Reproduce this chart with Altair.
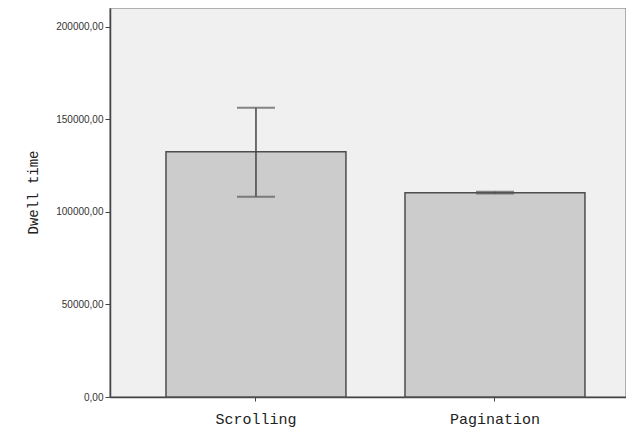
import altair as alt
import pandas as pd

categories = ["Scrolling", "Pagination"]
means = [132400, 110300]
err_low = [108100, 109800]
err_high = [156200, 110800]
y_ticks = [0, 50000, 100000, 150000, 200000]

df = pd.DataFrame({"group": categories, "mean": means, "low": err_low, "high": err_high})

x_enc = alt.X("group:N", sort=categories,
              scale=alt.Scale(paddingInner=0.247, paddingOuter=0.203, align=0.577),
              axis=alt.Axis(title=None, labelAngle=0, labelFont="Liberation Mono",
                            labelFontSize=15, labelColor="#222", labelFontWeight="normal",
                            tickSize=4, tickColor="#444", domainColor="#444",
                            domainWidth=1.5, labelPadding=10))
y_scale = alt.Scale(domain=[0, 210000], nice=False)

bars = alt.Chart(df).mark_bar(fill="#cccccc", stroke="#4d4d4d", strokeWidth=1.5).encode(
    x=x_enc,
    y=alt.Y("mean:Q", scale=y_scale,
            axis=alt.Axis(title="Dwell time", values=y_ticks, grid=False,
                          labelExpr="replace(format(datum.value, '.2f'), '.', ',')",
                          labelFont="Liberation Sans", labelFontSize=10, labelColor="#333",
                          tickSize=5, tickColor="#444", domainColor="#444", domainWidth=1.5,
                          labelPadding=2, titleFont="Liberation Mono", titleFontSize=14,
                          titleFontWeight="normal", titleColor="#222",
                          titleX=-77, titleY=184, titleBaseline="middle", titleAngle=270)),
)

rule = alt.Chart(df).mark_rule(color="#444", strokeWidth=1.5).encode(
    x=alt.X("group:N", sort=categories),
    y=alt.Y("low:Q", scale=y_scale),
    y2="high:Q",
)
cap_lo = alt.Chart(df).mark_tick(color="#555", size=38, thickness=2).encode(
    x=alt.X("group:N", sort=categories),
    y=alt.Y("low:Q", scale=y_scale),
)
cap_hi = alt.Chart(df).mark_tick(color="#555", size=38, thickness=2).encode(
    x=alt.X("group:N", sort=categories),
    y=alt.Y("high:Q", scale=y_scale),
)

chart = alt.layer(bars, rule, cap_lo, cap_hi).properties(
    width=516, height=389,
    autosize=alt.AutoSizeParams(type="none"),
    padding={"left": 102, "top": 0, "right": 0, "bottom": 31},
    background="white",
).configure_view(fill="#f0f0f0", stroke="#999", strokeWidth=1.5)

chart.save("out.html", embed_options={"renderer": "svg", "actions": False})
